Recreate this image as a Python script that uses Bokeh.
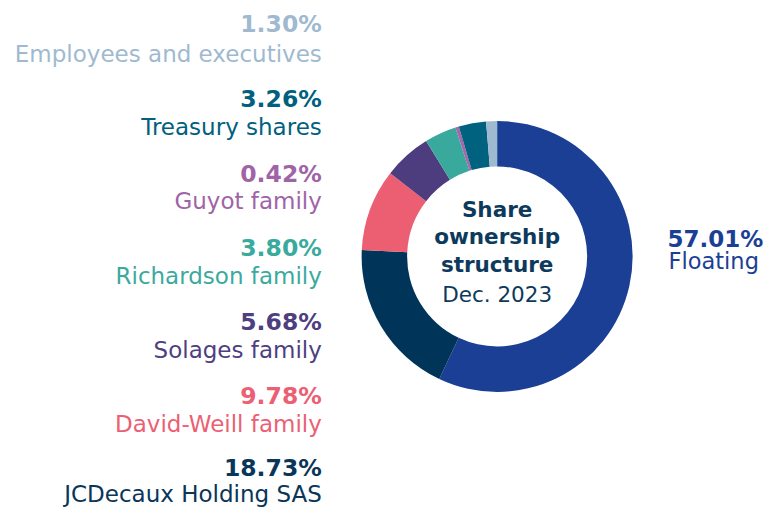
import math
from bokeh.plotting import figure
from bokeh.models import Range1d, ColumnDataSource
from bokeh.core.properties import value
from bokeh.embed import file_html
from bokeh.resources import INLINE

# Data (legend order, top to bottom)
categories = ["Employees and executives", "Treasury shares", "Guyot family",
              "Richardson family", "Solages family", "David-Weill family",
              "JCDecaux Holding SAS", "Floating"]
shares = [1.30, 3.26, 0.42, 3.80, 5.68, 9.78, 18.73, 57.01]
colors = ["#9FBAD0", "#00627F", "#A567A8", "#38A99C", "#4E3D7E", "#EC5F73",
          "#003459", "#1A3F94"]
text_colors = ["#9FBAD0", "#00607E", "#A064A6", "#3AAA9E", "#4E3F7F", "#EC5F74",
               "#0A3659", "#1B3F94"]
center_lines = ["Share", "ownership", "structure", "Dec. 2023"]

FONT = value("DejaVu Sans")
W, H = 766, 509
RW, RH = 782, 525  # layout coordinate space

p = figure(width=W, height=H, output_backend="svg", toolbar_location=None,
           x_range=Range1d(0, RW), y_range=Range1d(0, RH),
           min_border=0, outline_line_color=None)
p.axis.visible = False
p.grid.visible = False
p.background_fill_color = "white"

def Y(sy):
    return RH - sy

TOFF = 8.8  # baseline correction for text

def YT(sy):
    return RH - sy + TOFF

# Donut: clockwise from 12 o'clock, Floating first (reverse of legend order)
cx, cy = 507, Y(264)
order = list(range(len(shares)))[::-1]
total = sum(shares)
starts, ends, cols = [], [], []
cum = 0.0
for i in order:
    a0 = math.pi / 2 - 2 * math.pi * cum / total
    cum += shares[i]
    a1 = math.pi / 2 - 2 * math.pi * cum / total
    starts.append(a0)
    ends.append(a1)
    cols.append(colors[i])
src = ColumnDataSource(dict(x=[cx] * len(starts), y=[cy] * len(starts),
                            s=starts, e=ends, c=cols))
p.annular_wedge(x="x", y="y", inner_radius=90, outer_radius=135.5,
                inner_radius_units="screen", outer_radius_units="screen",
                start_angle="s", end_angle="e", direction="clock",
                fill_color="c", line_color=None, source=src)

# Center text
center_y = [224, 252, 281, 312]
for k, t in enumerate(center_lines):
    p.text(x=[cx], y=[YT(center_y[k])], text=[t], text_font=FONT,
           text_font_size="21.5px", text_font_style="bold" if k < 3 else "normal",
           text_color="#0D3A5C", text_align="center", text_baseline="alphabetic")

# Left labels
pct_base = [33, 110.5, 187.5, 264, 340.7, 416.7, 490.7]
lab_base = [64, 139.3, 216, 293, 369.3, 445.7, 518.3]
for i in range(7):
    p.text(x=[328], y=[YT(pct_base[i])], text=[f"{shares[i]:.2f}%"], text_font=FONT,
           text_font_size="23.5px", text_font_style="bold", text_color=text_colors[i],
           text_align="right", text_baseline="alphabetic")
    p.text(x=[328], y=[YT(lab_base[i])], text=[categories[i]], text_font=FONT,
           text_font_size="23px", text_color=text_colors[i],
           text_align="right", text_baseline="alphabetic")

# Right label (Floating)
p.text(x=[681], y=[YT(255)], text=[f"{shares[7]:.2f}%"], text_font=FONT,
       text_font_size="23px", text_font_style="bold", text_color=text_colors[7],
       text_align="left", text_baseline="alphabetic")
p.text(x=[682], y=[YT(277)], text=[categories[7]], text_font=FONT,
       text_font_size="22.5px", text_color=text_colors[7],
       text_align="left", text_baseline="alphabetic")

open("out.html", "w").write(file_html(p, INLINE))
